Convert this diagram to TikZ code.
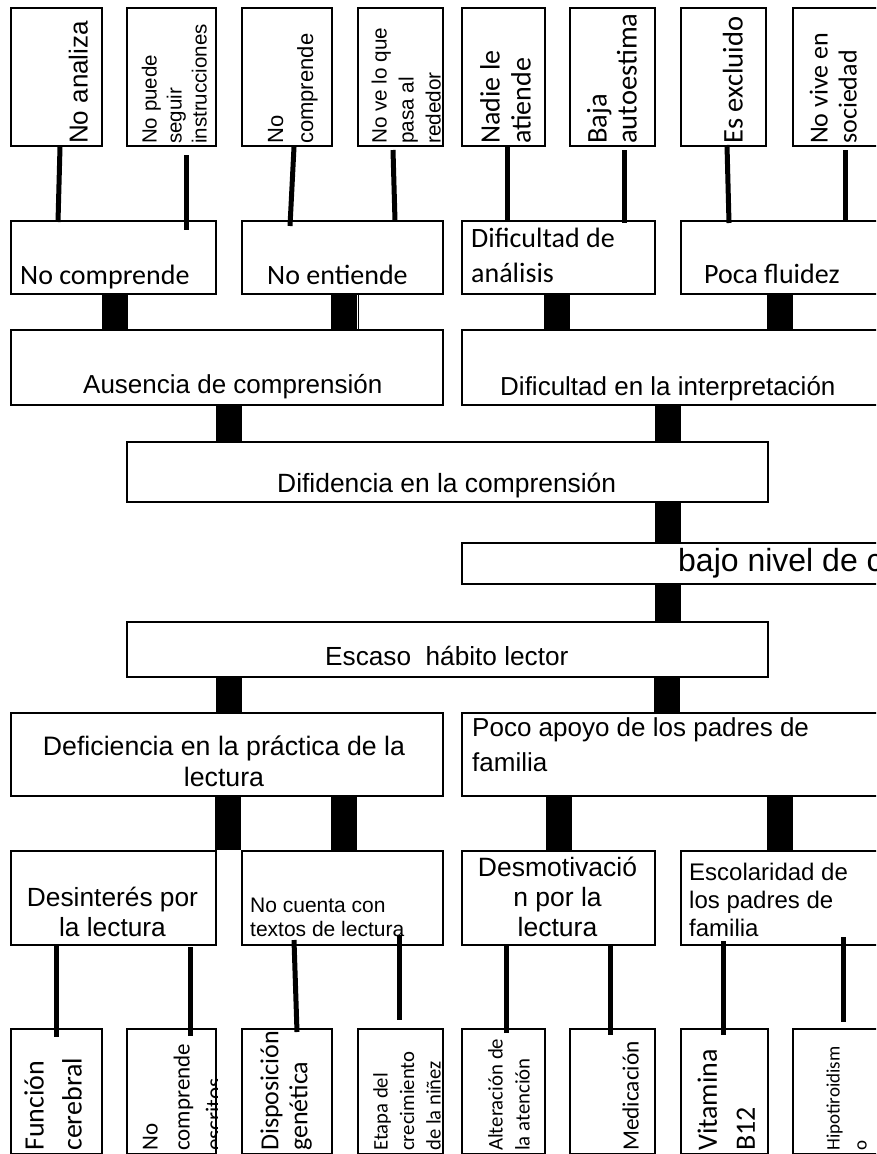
\documentclass[tikz,border=0pt]{standalone}
\usepackage{fontspec}
\setmainfont{Liberation Sans}
\newfontfamily\calibri{Carlito}
\newcommand{\fsz}[2]{\fontsize{#1}{#2}\selectfont}

\begin{document}
\begin{tikzpicture}[x=1pt, y=-1pt,
	box/.style={draw, line width=2pt, inner sep=0pt, anchor=north west},
	link/.style={line width=5pt},
	bar/.style={line width=26pt},
	txt/.style={inner sep=0pt},
	vtxt/.style={inner sep=0pt, rotate=90, anchor=south west, align=left}]

	\useasboundingbox (0,0) rectangle (876,1154);
	\clip (0,0) rectangle (876,1154);

	\node[box, minimum width=91, minimum height=138] (na) at (10,7) {};
	\node[box, minimum width=89, minimum height=138] (np) at (126,7) {};
	\node[box, minimum width=90, minimum height=138] (nc) at (241,7) {};
	\node[box, minimum width=85, minimum height=138] (nv) at (357,7) {};
	\node[box, minimum width=83, minimum height=138] (nl) at (461,7) {};
	\node[box, minimum width=85, minimum height=138] (ba) at (569,7) {};
	\node[box, minimum width=85, minimum height=138] (ex) at (680,7) {};
	\node[box, minimum width=90, minimum height=138] (ns) at (792,7) {};

	\node[box, minimum width=205, minimum height=73] (c1) at (10,220) {};
	\node[box, minimum width=201, minimum height=73] (c2) at (241,220) {};
	\node[box, minimum width=193, minimum height=73] (c3) at (461,220) {};
	\node[box, minimum width=200, minimum height=73] (c4) at (680,220) {};

	\node[box, minimum width=432, minimum height=75] (ac) at (10,329) {};
	\node[box, minimum width=420, minimum height=75] (di) at (461,329) {};

	\node[box, minimum width=641, minimum height=60] (dc) at (126,441) {};
	\node[box, minimum width=420, minimum height=41] (bn) at (461,542) {};
	\node[box, minimum width=641, minimum height=55] (eh) at (126,621) {};

	\node[box, minimum width=432, minimum height=83] (dp) at (10,712) {};
	\node[box, minimum width=420, minimum height=83] (pa) at (461,712) {};

	\node[box, minimum width=205, minimum height=94] (dl) at (10,850) {};
	\node[box, minimum width=201, minimum height=94] (nt) at (241,850) {};
	\node[box, minimum width=193, minimum height=94] (dm) at (461,850) {};
	\node[box, minimum width=200, minimum height=94] (es) at (680,850) {};

	\node[box, minimum width=91, minimum height=125] (fc) at (10,1028) {};
	\node[box, minimum width=89, minimum height=125] (nce) at (126,1028) {};
	\node[box, minimum width=90, minimum height=125] (dg) at (241,1028) {};
	\node[box, minimum width=85, minimum height=125] (ec) at (357,1028) {};
	\node[box, minimum width=83, minimum height=125] (al) at (461,1028) {};
	\node[box, minimum width=85, minimum height=125] (me) at (569,1028) {};
	\node[box, minimum width=87, minimum height=125] (vb) at (680,1028) {};
	\node[box, minimum width=90, minimum height=125] (hi) at (792,1028) {};

	\node[vtxt, font=\fsz{26}{30}] (na-t) at (88,144) {No analiza};
	\node[vtxt, font=\fsz{20.5}{25}] (np-t) at (207,144) {No puede\\seguir\\instrucciones};
	\node[vtxt, font=\fsz{22}{30}] (nc-t) at (318,144) {No\\comprende};
	\node[vtxt, font=\fsz{20.7}{27}] (nv-t) at (441,144) {No ve lo que\\pasa al\\rededor};
	\node[vtxt, font=\calibri\fsz{28}{31}] (nl-t) at (531,144) {Nadie le\\atiende};
	\node[vtxt, font=\calibri\fsz{28.5}{30}] (ba-t) at (637,144) {Baja\\autoestima};
	\node[vtxt, font=\calibri\fsz{28.5}{30}] (ex-t) at (743,144) {Es excluido};
	\node[vtxt, font=\calibri\fsz{26}{29}] (ns-t) at (857,144) {No vive en\\sociedad};

	\node[txt, anchor=base west, font=\calibri\fsz{28}{34}] (c1-t) at (20,284) {No comprende};
	\node[txt, anchor=base west, font=\calibri\fsz{28}{34}] (c2-t) at (267,284) {No entiende};
	\node[txt, anchor=south west, align=left, font=\calibri\fsz{28}{35}] (c3-t) at (471,283) {Dificultad de\\análisis};
	\node[txt, anchor=base west, font=\calibri\fsz{28}{34}] (c4-t) at (704,283) {Poca fluidez};

	\node[txt, anchor=base west, font=\fsz{26}{30}] (ac-t) at (83,393) {Ausencia de comprensión};
	\node[txt, anchor=base west, font=\fsz{26}{30}] (di-t) at (500,395) {Dificultad en la interpretación};
	\node[txt, anchor=base west, font=\fsz{26.4}{30}] (dc-t) at (277,492) {Difidencia en la comprensión};
	\node[txt, anchor=base west, font=\fsz{32}{36}] (bn-t) at (678,571) {bajo nivel de c};
	\node[txt, anchor=base west, font=\fsz{26.2}{30}] (eh-t) at (325,665) {Escaso\ \ hábito lector};

	\node[txt, anchor=south, align=center, font=\fsz{26.7}{31}] (dp-t) at (224,787) {Deficiencia en la práctica de la\\lectura};
	\node[txt, anchor=south west, align=left, font=\fsz{26}{35}] (pa-t) at (472,772) {Poco apoyo de los padres de\\familia};

	\node[txt, anchor=south, align=center, font=\fsz{26.3}{30}] (dl-t) at (112.5,937) {Desinterés por\\la lectura};
	\node[txt, anchor=south west, align=left, font=\fsz{21}{24}] (nt-t) at (250,937) {No cuenta con\\textos de lectura};
	\node[txt, anchor=south, align=center, font=\fsz{26.5}{30}] (dm-t) at (557.5,937) {Desmotivació\\n por la\\lectura};
	\node[txt, anchor=south west, align=left, font=\fsz{24}{28}] (es-t) at (689,937) {Escolaridad de\\los padres de\\familia};

	\node[vtxt, font=\calibri\fsz{28}{38}] (fc-t) at (82,1151) {Función\\cerebral};
	\begin{scope}
		\clip (nce.south west) rectangle (nce.north east);
		\node[vtxt, font=\calibri\fsz{23}{32}] (nce-t) at (222,1151) {No\\comprende\\escritos};
	\end{scope}
	\node[vtxt, font=\calibri\fsz{26}{29}] (dg-t) at (312,1151) {Disposición\\genética};
	\node[vtxt, font=\calibri\fsz{20.7}{26.5}] (ec-t) at (441,1151) {Etapa del\\crecimiento\\de la niñez};
	\node[vtxt, font=\calibri\fsz{20.8}{27}] (al-t) at (530,1151) {Alteración de\\la atención};
	\node[vtxt, font=\calibri\fsz{23.3}{27}] (me-t) at (639,1151) {Medicación};
	\node[vtxt, font=\calibri\fsz{28}{38}] (vb-t) at (755,1151) {Vitamina\\B12};
	\node[vtxt, font=\calibri\fsz{19}{27}] (hi-t) at (867,1151) {Hipotiroidism\\o};

	\draw[link] ([xshift=3.5]na.south) -- ([xshift=1.5,yshift=-2]na.south |- c1.north);
	\draw[link] ([xshift=14.5,yshift=-8]np.south) -- ([xshift=14.5,yshift=-10]np.south |- c1.north);
	\draw[link] ([xshift=7]nc.south) -- ([xshift=3,yshift=-6]nc.south |- c2.north);
	\draw[link] ([xshift=-7.5,yshift=-3]nv.south) -- ([xshift=-5.5,yshift=-1]nv.south |- c2.north);
	\draw[link] ([xshift=3.5]nl.south) -- ([xshift=3.5,yshift=-1]nl.south |- c3.north);
	\draw[link] ([xshift=11.5,yshift=-3]ba.south) -- ([xshift=11.5,yshift=-3]ba.south |- c3.north);
	\draw[link] ([xshift=3.5,yshift=2]ex.south) -- ([xshift=5.5,yshift=-3]ex.south |- c4.north);
	\draw[link] ([xshift=7,yshift=-3]ns.south) -- ([xshift=7,yshift=-1]ns.south |- c4.north);

	\draw[bar] ([xshift=1]c1.south) -- ([xshift=1]c1.south |- ac.north);
	\draw[bar] ([xshift=1]c2.south) -- ([xshift=1]c2.south |- ac.north);
	\draw[line width=1pt] ([xshift=15.5]c2.south) -- ([xshift=15.5]c2.south |- ac.north);
	\draw[bar] ([xshift=-1.5]c3.south) -- ([xshift=-1.5]c3.south |- di.north);
	\draw[bar] ([xshift=-1]c4.south) -- ([xshift=-1]c4.south |- di.north);
	\draw[bar] ([xshift=2]ac.south) -- ([xshift=2]ac.south |- dc.north);
	\draw[bar] ([xshift=-4]di.south) -- ([xshift=-4]di.south |- dc.north);
	\draw[bar] ([xshift=-4]bn.north |- dc.south) -- ([xshift=-4]bn.north);
	\draw[bar] ([xshift=-4]bn.south) -- ([xshift=-4]bn.south |- eh.north);
	\draw[bar] ([xshift=1.5]dp.north |- eh.south) -- ([xshift=1.5]dp.north);
	\draw[bar] ([xshift=-5]pa.north |- eh.south) -- ([xshift=-5]pa.north);
	\draw[bar] ([xshift=0.5]dp.south) -- ([xshift=0.5]dp.south |- dl.north);
	\draw[bar] ([xshift=1]nt.north |- dp.south) -- ([xshift=1]nt.north);
	\draw[bar] (dm.north |- pa.south) -- (dm.north);
	\draw[bar] ([xshift=-1]es.north |- pa.south) -- ([xshift=-1]es.north);

	\draw[link] ([yshift=2]fc.north |- dl.south) -- ([yshift=-9]fc.north);
	\draw[link] ([xshift=18.5,yshift=-1]nce.north |- dl.south) -- ([xshift=18.5,yshift=-8]nce.north);
	\draw[link] ([xshift=7,yshift=6]dg.north |- nt.south) -- ([xshift=10,yshift=-4]dg.north);
	\draw[link] ([xshift=-1.5,yshift=11]ec.north |- nt.south) -- ([xshift=-1.5,yshift=8]ec.north);
	\draw[link] ([xshift=2.5,yshift=2]al.north |- dm.south) -- ([xshift=2.5,yshift=-5]al.north);
	\draw[link] ([xshift=-2.5]me.north |- dm.south) -- ([xshift=-2.5,yshift=-7]me.north);
	\draw[link] ([xshift=-1.5,yshift=5]vb.north |- es.south) -- ([xshift=-1.5,yshift=-7]vb.north);
	\draw[link] ([xshift=5,yshift=9]hi.north |- es.south) -- ([xshift=5,yshift=6]hi.north);

\end{tikzpicture}
\end{document}
